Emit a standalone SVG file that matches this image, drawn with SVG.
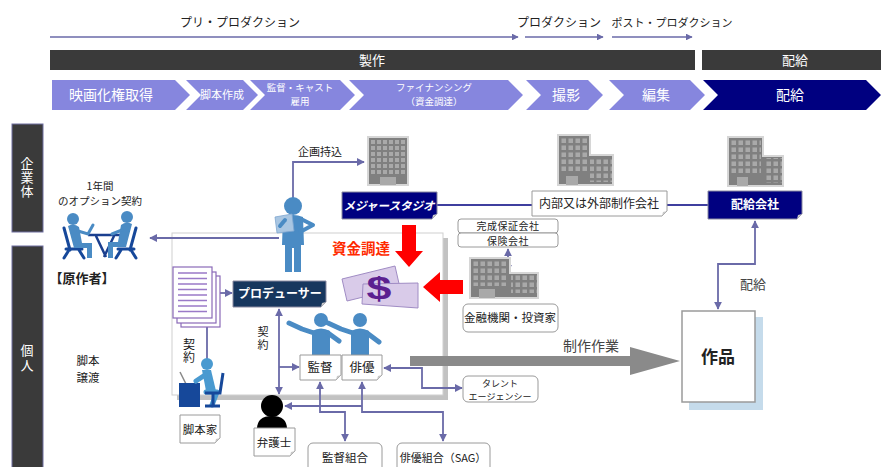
<svg xmlns="http://www.w3.org/2000/svg" width="881" height="467" viewBox="0 0 881 467">
<defs>
<style>
text{font-family:"Noto Sans CJK JP","Noto Sans",sans-serif;fill:#222}
.c{text-anchor:middle}
.v{writing-mode:vertical-rl}
.w{fill:#fff}
.b{font-weight:bold}
.lk{fill:none;stroke:#6a6aa8;stroke-width:1.8}
.ph{fill:none;stroke:#6a6aa8;stroke-width:1.5}
.chev{fill:#8686de}
.bar{fill:#3a3a3a}
.side{fill:#3a3a3a;stroke:#6f6fa0;stroke-width:1}
.box{fill:#fff;stroke:#9a9a9a;stroke-width:1}
.rbox{fill:#fff;stroke:#9a9a9a;stroke-width:1}
.fold{fill:#c8c8c8}
.nav{fill:#000080;stroke:#8a8aa0;stroke-width:1}
.fig{fill:#4a8bc4}
.bld{fill:#808080;stroke:#d6d6d6;stroke-width:2}
.door{fill:#a9a9a9}
.navy{fill:#16489a}
.page{fill:#fff;stroke:#8a6ab8;stroke-width:1.2}
</style>
<marker id="ah" viewBox="0 0 10 10" refX="9" refY="5" markerWidth="4.5" markerHeight="4.5" orient="auto-start-reverse"><path d="M0,0 L10,5 L0,10 Z" fill="#6a6aa8"/></marker>
<pattern id="w1" x="370" y="139" width="6" height="6" patternUnits="userSpaceOnUse"><rect x="1" y="1" width="4" height="4" fill="#a9a9a9"/></pattern>
<pattern id="w2" x="560" y="137" width="7" height="7" patternUnits="userSpaceOnUse"><rect x="1.5" y="1.5" width="4.5" height="4.5" fill="#a9a9a9"/></pattern>
<pattern id="w3" x="730" y="139" width="7" height="7" patternUnits="userSpaceOnUse"><rect x="1.5" y="1.5" width="4.5" height="4.5" fill="#a9a9a9"/></pattern>
<pattern id="w4" x="472" y="260" width="7" height="7" patternUnits="userSpaceOnUse"><rect x="1.5" y="1.5" width="4.5" height="4.5" fill="#a9a9a9"/></pattern>
</defs>

<rect width="881" height="467" fill="#fff"/>

<!-- phase arrows -->
<g id="phases">
<text class="c" x="240" y="27" font-size="12">プリ・プロダクション</text>
<text class="c" x="559" y="27" font-size="12">プロダクション</text>
<text class="c" x="672" y="27" font-size="11">ポスト・プロダクション</text>
<path class="ph" d="M50,37 H518" marker-end="url(#ah)"/>
<path class="ph" d="M525,37 H603" marker-end="url(#ah)"/>
<path class="ph" d="M612,37 H692" marker-end="url(#ah)"/>
<rect class="bar" x="50" y="50" width="645" height="20"/>
<rect class="bar" x="702" y="50" width="179" height="20"/>
<text class="c w" x="372" y="65" font-size="13">製作</text>
<text class="c w" x="795" y="65" font-size="13">配給</text>
</g>

<!-- process chevrons -->
<g id="chevrons">
<polygon class="chev" points="52,80 175,80 190,95 175,110 52,110"/>
<polygon class="chev" points="186,80 243,80 258,95 243,110 186,110 201,95"/>
<polygon class="chev" points="250,80 340,80 355,95 340,110 250,110 265,95"/>
<polygon class="chev" points="349,80 508,80 523,95 508,110 349,110 364,95"/>
<polygon class="chev" points="526,80 588,80 603,95 588,110 526,110 541,95"/>
<polygon class="chev" points="609,80 690,80 705,95 690,110 609,110 624,95"/>
<polygon fill="#000080" points="703,80 866,80 881,95 866,110 703,110 718,95"/>
<text class="c w" x="111" y="100" font-size="14">映画化権取得</text>
<text class="c w" x="222" y="99" font-size="11">脚本作成</text>
<text class="c w" font-size="9.5"><tspan x="300" y="91">監督・キャスト</tspan><tspan x="300" y="105">雇用</tspan></text>
<text class="c w" font-size="9.5"><tspan x="434" y="91">ファイナンシング</tspan><tspan x="434" y="105">（資金調達）</tspan></text>
<text class="c w" x="566" y="100" font-size="14">撮影</text>
<text class="c w" x="656" y="100" font-size="14">編集</text>
<text class="c w" x="790" y="100" font-size="14">配給</text>
</g>

<!-- row headers -->
<g id="rows">
<rect class="side" x="12" y="124" width="31" height="108"/>
<rect class="side" x="12" y="246" width="31" height="225"/>
<text class="v w" x="27" y="157" font-size="13" letter-spacing="1">企業体</text>
<text class="v w" x="27" y="344" font-size="13" letter-spacing="2">個人</text>
</g>

<!-- producer frame with shadow -->
<g id="frame">
<rect x="177" y="238" width="271" height="162" fill="#c2c2c2"/>
<rect x="172" y="233" width="271" height="162" fill="#fff" stroke="#cfcfcf" stroke-width="1"/>
</g>

<!-- connectors -->
<g id="connectors">
<path class="lk" d="M279,238 H150" marker-end="url(#ah)"/>
<path class="lk" d="M293,198 V162 H364" marker-end="url(#ah)"/>
<path d="M437,205 H532 M667,205 H708" fill="none" stroke="#000080" stroke-width="1.5"/>
<path class="lk" d="M755,221 V264 H718 V309" marker-start="url(#ah)" marker-end="url(#ah)"/>
<path class="lk" d="M508,249 V272" marker-start="url(#ah)" marker-end="url(#ah)"/>
<path class="lk" d="M216,293 H232" marker-end="url(#ah)"/>
<path class="lk" d="M207,326 V359"/>
<path class="lk" d="M279,309 V394" marker-start="url(#ah)" marker-end="url(#ah)"/>
<path class="lk" d="M279,367 H299" marker-end="url(#ah)"/>
<path class="lk" d="M384,368 H422 V388 H462" marker-start="url(#ah)" marker-end="url(#ah)"/>
<path class="lk" d="M320,382 V412 H345 V441" marker-start="url(#ah)" marker-end="url(#ah)"/>
<path class="lk" d="M362,382 V412 H443 V441" marker-start="url(#ah)" marker-end="url(#ah)"/>
<path class="lk" d="M362,406 H285" marker-end="url(#ah)"/>
<!-- production work arrow -->
<polygon fill="#8a8a8a" points="410,356 630,356 630,347 680,361 630,375 630,366 410,366"/>
<!-- funding arrows -->
<polygon fill="#ff0000" points="402,225 416,225 416,251 423,251 409,267 395,251 402,251"/>
<polygon fill="#ff0000" points="463,280 440,280 440,272 423,287 440,302 440,294 463,294"/>
</g>

<!-- option agreement with the author -->
<g id="author">
<text class="c" font-size="10.5"><tspan x="100" y="189.5">1年間</tspan><tspan x="100" y="205">のオプション契約</tspan></text>
<!-- table -->
<path d="M88,235 H122 M96,236 L106,257 M114,236 L104,257" stroke="#1a3f8f" stroke-width="2.5" fill="none"/>
<!-- left chair and person -->
<path d="M64,228 L70,250 M66,249 H82 M69,250 L64,258 M79,250 L84,258" stroke="#16489a" stroke-width="3" fill="none" stroke-linecap="round"/>
<circle class="fig" cx="73" cy="219" r="6"/>
<path class="fig" d="M68,226 Q74,223 79,227 L82,243 L92,243 L92,258 L87,258 L87,248 L74,248 Z"/>
<path d="M78,231 L88,234 L93,225" stroke="#4a8bc4" stroke-width="3" fill="none" stroke-linecap="round"/>
<!-- right chair and person -->
<path d="M136,228 L130,250 M134,249 H118 M131,250 L136,258 M121,250 L116,258" stroke="#16489a" stroke-width="3" fill="none" stroke-linecap="round"/>
<circle class="fig" cx="127" cy="217" r="6"/>
<path class="fig" d="M132,224 Q126,221 121,225 L118,242 L108,242 L108,258 L113,258 L113,247 L126,247 Z"/>
<path d="M122,230 L112,234" stroke="#4a8bc4" stroke-width="3" fill="none" stroke-linecap="round"/>
<text class="c b" x="82" y="283" font-size="13">【原作者】</text>
</g>

<!-- producer standing figure -->
<g id="producer-figure">
<circle class="fig" cx="293" cy="206" r="9"/>
<path class="fig" d="M283,217 Q293,213 303,217 L304,245 L301,245 L301,272 L294,272 L294,248 L292,248 L292,272 L285,272 L285,245 L282,245 Z"/>
<path d="M301,219 L313,225 L300,232" stroke="#4a8bc4" stroke-width="4" fill="none" stroke-linejoin="round" stroke-linecap="round"/>
<polygon points="275,217 292,214 294,231 277,233" fill="#a9c6e2" stroke="#7ea6cf" stroke-width="0.8"/>
<path d="M285,220 L280,226" stroke="#4a8bc4" stroke-width="4" stroke-linecap="round"/>
<text class="c" x="320" y="156" font-size="11">企画持込</text>
</g>

<!-- buildings -->
<g id="studio-building">
<rect class="bld" x="368" y="137" width="40" height="48"/>
<rect x="370" y="139" width="36" height="36" fill="url(#w1)"/>
<rect class="door" x="380" y="177" width="16" height="8"/>
</g>
<g id="producer-building">
<path class="bld" d="M558,135 H590 V155 H613 V185 H558 Z"/>
<rect x="560" y="137" width="28" height="36" fill="url(#w2)"/>
<rect x="590" y="158" width="22" height="24" fill="url(#w2)"/>
<rect class="door" x="566" y="176" width="12" height="9"/>
</g>
<g id="distributor-building">
<path class="bld" d="M728,137 H763 V156 H783 V186 H728 Z"/>
<rect x="730" y="139" width="31" height="35" fill="url(#w3)"/>
<rect x="764" y="158" width="18" height="25" fill="url(#w3)"/>
<rect class="door" x="737" y="177" width="11" height="9"/>
</g>
<g id="finance-building">
<path class="bld" d="M470,258 H510 V273 H538 V298 H470 Z"/>
<rect x="472" y="260" width="36" height="26" fill="url(#w4)"/>
<rect x="511" y="274" width="26" height="19" fill="url(#w4)"/>
<rect class="door" x="479" y="289" width="16" height="9"/>
</g>

<!-- company nodes -->
<g id="major-studio">
<path class="nav" d="M342,192 H437 V214 L432,219 H342 Z"/>
<path class="fold" d="M432,219 L433,215 L437,214 Z"/>
<text class="c w b" x="389" y="210" font-size="11.5" font-style="italic">メジャースタジオ</text>
</g>
<g id="production-company">
<path class="box" d="M532,191 H667 V211 L662,216 H532 Z"/>
<path class="fold" d="M662,216 L663,212 L667,211 Z"/>
<text class="c" x="599" y="208" font-size="12">内部又は外部制作会社</text>
</g>
<g id="distributor">
<path class="nav" d="M708,191 H802 V214 L797,219 H708 Z"/>
<path class="fold" d="M797,219 L798,215 L802,214 Z"/>
<text class="c w b" x="755" y="209" font-size="12">配給会社</text>
<text class="c" x="753" y="289" font-size="13" style="fill:#444">配給</text>
</g>
<g id="completion-guarantor">
<rect class="rbox" x="458" y="219" width="100" height="14" rx="3"/>
<text class="c" x="508" y="230.2" font-size="10" letter-spacing="0.5">完成保証会社</text>
</g>
<g id="insurer">
<rect class="rbox" x="458" y="233" width="100" height="14" rx="3"/>
<text class="c" x="508" y="245" font-size="10" letter-spacing="0.5">保険会社</text>
</g>
<g id="financiers">
<rect class="rbox" x="463" y="304" width="95" height="28" rx="5"/>
<text class="c" x="510" y="322" font-size="11.5">金融機関・投資家</text>
</g>

<!-- funding -->
<g id="funding">
<text class="c b" x="361" y="254" font-size="14.5" style="fill:#ff2a00">資金調達</text>
<polygon points="342,279 395,266 400,288 347,301" fill="#d9cbe9" stroke="#a08cc4" stroke-width="1"/>
<polygon points="363,284 418,283 418,308 362,304" fill="#d9cbe9" stroke="#a08cc4" stroke-width="1"/>
<text class="c b" transform="translate(379,299) scale(1.4,1)" font-size="32" style="fill:#5b2090;font-family:'Liberation Sans',sans-serif">$</text>
</g>

<!-- script pages -->
<g id="script">
<rect class="page" x="181" y="276" width="39" height="51"/>
<rect class="page" x="177" y="272" width="39" height="51"/>
<rect class="page" x="173" y="267" width="39" height="51"/>
<path d="M178,273 H207 M178,278.5 H207 M178,284 H207 M178,289.5 H207 M178,295 H207 M178,300.5 H207 M178,306 H207 M178,311.5 H207" stroke="#9a7ac8" stroke-width="1.5"/>
</g>

<!-- producer node -->
<g id="producer">
<path d="M233,281 H326 V302 L321,307 H233 Z" fill="#17375e" stroke="#8a8aa0" stroke-width="1"/>
<path class="fold" d="M321,307 L322,303 L326,302 Z"/>
<text class="c w b" x="280" y="298" font-size="12">プロデューサー</text>
<text class="v" x="263" y="326" font-size="11" letter-spacing="2">契約</text>
</g>

<!-- screenwriter -->
<g id="screenwriter">
<text class="v" x="189" y="338" font-size="12" letter-spacing="1.5">契約</text>
<path d="M180,372 L186,384" stroke="#8a8a8a" stroke-width="1.5"/>
<rect class="navy" x="179" y="383" width="21" height="24"/>
<circle cx="207" cy="364" r="6" fill="#4a9ad0"/>
<path d="M202,370 L211,370 L216,391 L206,391 Z" fill="#4a9ad0"/>
<path d="M205,375 L196,381 M206,392 H217 L212,405" stroke="#4a9ad0" stroke-width="5" fill="none" stroke-linecap="round" stroke-linejoin="round"/>
<path d="M223,373 L220,393 H205 M213,394 V406 M205,406 H220" stroke="#16489a" stroke-width="3" fill="none"/>
<path class="box" d="M180,415 H220 V438 L215,443 H180 Z"/>
<path class="fold" d="M215,443 L216,439 L220,438 Z"/>
<text class="c" x="200" y="434" font-size="11.5">脚本家</text>
<text class="c" font-size="11.5"><tspan x="88" y="365">脚本</tspan><tspan x="88" y="382">譲渡</tspan></text>
</g>

<!-- director and actor -->
<g id="director">
<circle class="fig" cx="321" cy="320" r="7"/>
<path class="fig" d="M312,331 Q321,326 330,331 L330,355 L312,355 Z"/>
<path d="M314,333 L302,329 L289,323 M328,333 L339,341" stroke="#4a8bc4" stroke-width="5" fill="none" stroke-linecap="round" stroke-linejoin="round"/>
<path class="box" d="M300,355 H341 V375 L336,380 H300 Z"/>
<path class="fold" d="M336,380 L337,376 L341,375 Z"/>
<text class="c" x="320" y="372" font-size="12.5">監督</text>
</g>
<g id="actor">
<circle class="fig" cx="360" cy="320" r="7"/>
<path class="fig" d="M351,331 Q360,326 369,331 L369,355 L351,355 Z"/>
<path d="M353,333 L341,329 L328,323 M367,333 L379,342" stroke="#4a8bc4" stroke-width="5" fill="none" stroke-linecap="round" stroke-linejoin="round"/>
<path class="box" d="M342,355 H382 V375 L377,380 H342 Z"/>
<path class="fold" d="M377,380 L378,376 L382,375 Z"/>
<text class="c" x="362" y="372" font-size="12.5">俳優</text>
</g>

<!-- talent agency -->
<g id="agency">
<rect class="rbox" x="463" y="376" width="75" height="26" rx="5"/>
<text class="c" font-size="9"><tspan x="500" y="386.5">タレント</tspan><tspan x="500" y="399.7">エージェンシー</tspan></text>
</g>

<!-- lawyer -->
<g id="lawyer">
<circle cx="272" cy="406" r="11" fill="#000"/>
<path d="M257,429 Q257,416 272,416 Q287,416 287,429 Z" fill="#000"/>
<path class="box" d="M254,428 H295 V451 L290,456 H254 Z"/>
<path class="fold" d="M290,456 L291,452 L295,451 Z"/>
<text class="c" x="274" y="447" font-size="11.5">弁護士</text>
</g>

<!-- guilds -->
<g id="directors-guild">
<rect class="rbox" x="308" y="443" width="74" height="32" rx="5"/>
<text class="c" x="345" y="462" font-size="11.5">監督組合</text>
</g>
<g id="actors-guild">
<rect class="rbox" x="397" y="443" width="93" height="32" rx="5"/>
<text class="c" x="443" y="462" font-size="11">俳優組合（SAG）</text>
</g>

<!-- finished work -->
<g id="work">
<rect x="689" y="317" width="74" height="93" fill="#c5dbeb"/>
<rect x="682" y="311" width="73" height="91" fill="#fff" stroke="#9a9a9a" stroke-width="1.5"/>
<text class="c b" x="718" y="363" font-size="17">作品</text>
<text class="c" x="591" y="351" font-size="14" style="fill:#444">制作作業</text>
</g>
</svg>
